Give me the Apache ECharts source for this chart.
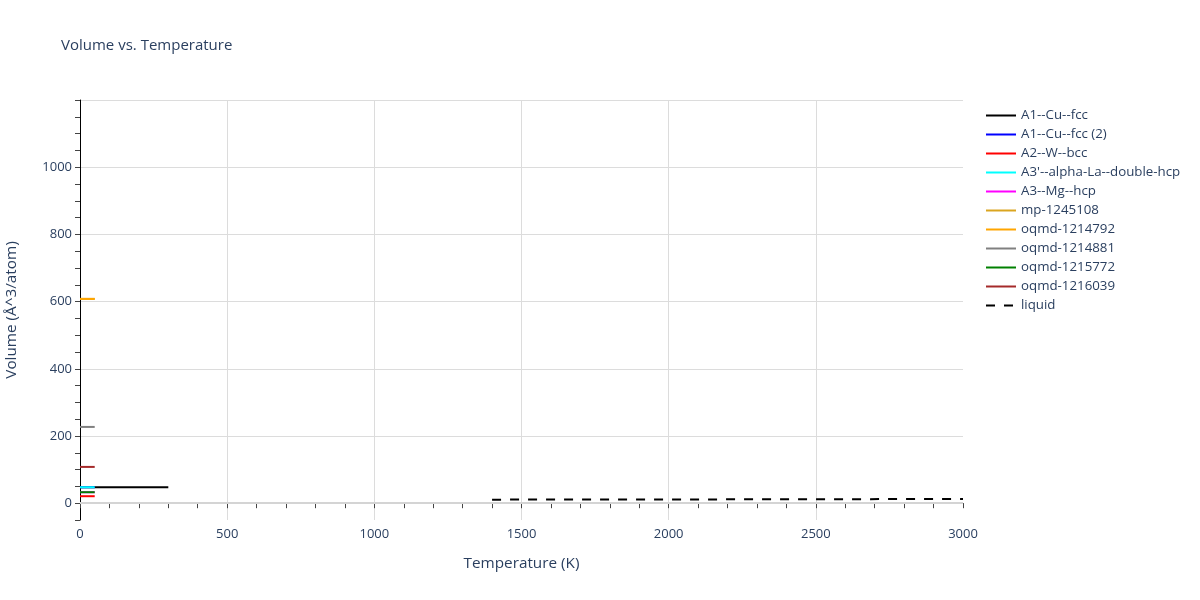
<!DOCTYPE html>
<html>
<head>
<meta charset="utf-8">
<script src="https://cdn.jsdelivr.net/npm/echarts@6/dist/echarts.min.js"></script>
<style>html,body{margin:0;padding:0;background:#fff}#c{width:1200px;height:600px}</style>
</head>
<body>
<div id="c"></div>
<script>
// ---- data ----
const seriesNames = ["A1--Cu--fcc","A1--Cu--fcc (2)","A2--W--bcc","A3'--alpha-La--double-hcp","A3--Mg--hcp","mp-1245108","oqmd-1214792","oqmd-1214881","oqmd-1215772","oqmd-1216039","liquid"];
const seriesColors = ["#000000","#0000ff","#ff0000","#00ffff","#ff00ff","#daa520","#ffa500","#808080","#008000","#a52a2a","#000000"];

const tempA1 = [0, 300];
const volA1 = [47.5, 47.5];
const tempA1b = [0, 50];
const volA1b = [47.5, 47.5];
const tempA2 = [0, 50];
const volA2 = [20.8, 20.8];
const tempA3p = [0, 50];
const volA3p = [47.5, 47.5];
const tempA3 = [0, 50];
const volA3 = [32.7, 32.7];
const tempMp = [0, 50];
const volMp = [608, 608];
const tempOq792 = [0, 50];
const volOq792 = [608, 608];
const tempOq881 = [0, 50];
const volOq881 = [227, 227];
const tempOq772 = [0, 50];
const volOq772 = [32.7, 32.7];
const tempOq039 = [0, 50];
const volOq039 = [108, 108];
const tempLiquid = [1400, 1600, 1800, 2000, 2200, 2400, 2600, 2800, 3000];
const volLiquid = [10.6, 10.8, 11.0, 11.2, 11.4, 11.6, 11.9, 12.3, 12.8];

const xTickLabels = [0, 500, 1000, 1500, 2000, 2500, 3000];
const yTickLabels = [0, 200, 400, 600, 800, 1000];

const temps = [tempA1, tempA1b, tempA2, tempA3p, tempA3, tempMp, tempOq792, tempOq881, tempOq772, tempOq039, tempLiquid];
const vols = [volA1, volA1b, volA2, volA3p, volA3, volMp, volOq792, volOq881, volOq772, volOq039, volLiquid];

const textColor = '#2a3f5f';
const font = '"Open Sans", "Noto Sans", Verdana, Arial, sans-serif';

const series = seriesNames.map((name, i) => {
  const s = {
    name: name,
    type: 'line',
    data: temps[i].map((t, k) => [t, vols[i][k]]),
    symbol: 'none',
    showSymbol: false,
    lineStyle: { color: seriesColors[i], width: 2, type: name === 'liquid' ? [9, 9] : 'solid' },
    itemStyle: { color: seriesColors[i] },
    animation: false,
    z: 3
  };
  if (i === 0) {
    s.markLine = {
      silent: true, symbol: 'none', label: { show: false }, animation: false,
      lineStyle: { color: '#d4d4d4', width: 2, type: 'solid' },
      data: [{ yAxis: 0 }]
    };
  }
  return s;
});

const chart = echarts.init(document.getElementById('c'), null, { renderer: 'canvas' });
chart.setOption({
  backgroundColor: '#fff',
  animation: false,
  textStyle: { fontFamily: font },
  title: {
    text: 'Volume vs. Temperature',
    left: 56, top: 33,
    textStyle: { color: textColor, fontSize: 15, fontWeight: 'normal', fontFamily: font }
  },
  legend: {
    orient: 'vertical',
    left: 980, top: 104,
    itemWidth: 30, itemHeight: 14, itemGap: 6,
    itemStyle: { opacity: 0 },
    textStyle: { color: textColor, fontSize: 13.3, fontFamily: font },
    data: seriesNames
  },
  grid: { left: 80, right: 237, top: 100, bottom: 80, containLabel: false, outerBoundsMode: 'none' },
  xAxis: {
    type: 'value', min: 0, max: 3000, interval: 100,
    name: 'Temperature (K)', nameLocation: 'middle', nameGap: 36,
    nameTextStyle: { color: textColor, fontSize: 15.3, fontFamily: font },
    axisLine: { show: true, lineStyle: { color: '#000', width: 1 } },
    axisTick: { show: true, length: 5, lineStyle: { color: '#444' } },
    axisLabel: {
      color: textColor, fontSize: 13, margin: 8, fontFamily: font,
      formatter: v => xTickLabels.includes(v) ? String(v) : ''
    },
    splitLine: { show: true, showMaxLine: false, lineStyle: { color: ['#dcdcdc', 'transparent', 'transparent', 'transparent', 'transparent'], width: 1 } }
  },
  yAxis: {
    type: 'value', min: -50, max: 1200, interval: 50,
    name: 'Volume (Å^3/atom)', nameLocation: 'middle', nameGap: 61,
    nameTextStyle: { color: textColor, fontSize: 15.3, fontFamily: font },
    axisLine: { show: true, lineStyle: { color: '#000', width: 1 } },
    axisTick: { show: true, length: 5, lineStyle: { color: '#444' } },
    axisLabel: {
      color: textColor, fontSize: 13, margin: 8, fontFamily: font,
      formatter: v => yTickLabels.includes(v) ? String(v) : ''
    },
    splitLine: { show: true, lineStyle: { color: ['transparent', '#dcdcdc', 'transparent', 'transparent'], width: 1 } }
  },
  series: series
});
</script>
</body>
</html>
